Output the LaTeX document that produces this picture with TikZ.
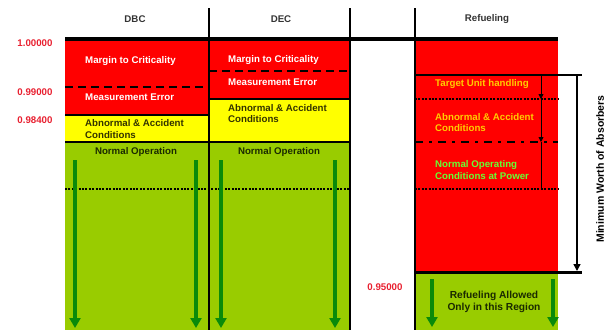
\documentclass[tikz,border=0pt]{standalone}
\usepackage{fontspec}
\setmainfont{Liberation Sans}
\usetikzlibrary{arrows.meta}
\definecolor{bandred}{HTML}{FF0000}
\definecolor{bandyellow}{HTML}{FFFF00}
\definecolor{bandgreen}{HTML}{99CC00}
\definecolor{arrowgreen}{HTML}{0A8A0A}
\definecolor{numred}{HTML}{E82030}
\definecolor{olivetext}{HTML}{333300}
\definecolor{darktext}{HTML}{1A2A00}
\definecolor{orangetext}{HTML}{FFCC00}
\definecolor{limetext}{HTML}{66FF33}
\definecolor{headtext}{HTML}{333333}
\begin{document}
\begin{tikzpicture}[x=1pt,y=-1pt,
  txt/.style={font=\bfseries\fontsize{9.7}{11.5}\selectfont, inner sep=0pt, align=left},
  head/.style={txt, text=headtext},
  num/.style={txt, text=numred},
  sep/.style={line width=2.8pt, black},
  dashsep/.style={line width=2.8pt, black, dash pattern=on 8pt off 5pt},
  dotsep/.style={line width=2.8pt, black, dash pattern=on 2pt off 1.4pt},
  dashdotsep/.style={line width=2.8pt, black, dash pattern=on 8pt off 6pt on 3pt off 6pt},
  garrow/.style={line width=3.2pt, arrowgreen, -{Triangle[width=11pt,length=10pt]}},
  thinarrow/.style={line width=0.8pt, black, -{Triangle[width=5pt,length=5pt]}},
]
\useasboundingbox (0,0) rectangle (606,330);
% fills
\fill[bandred] (65,39) rectangle (209,115);
\fill[bandyellow] (65,115) rectangle (209,142);
\fill[bandgreen] (65,142) rectangle (209,330);
\fill[bandred] (209,39) rectangle (350,99);
\fill[bandyellow] (209,99) rectangle (350,142);
\fill[bandgreen] (209,142) rectangle (350,330);
\fill[bandred] (415,39) rectangle (558,272);
\fill[bandgreen] (415,272) rectangle (558,330);
% column separators
\draw[line width=2.6pt] (209,8) -- (209,330);
\draw[line width=2.2pt] (350,8) -- (350,330);
\draw[line width=2.6pt] (415,8) -- (415,330);
\draw[line width=4pt] (65,39) -- (558,39);
% DBC/DEC band lines
\draw[dashsep] (65,87) -- (209,87);
\draw[dashsep] (209,71) -- (350,71);
\draw[sep] (65,115) -- (209,115);
\draw[sep] (209,99) -- (350,99);
\draw[sep] (65,142) -- (350,142);
\draw[dotsep] (65,189) -- (350,189);
% refueling band lines
\draw[line width=1.6pt] (415,75) -- (582,75);
\draw[dotsep] (415,99) -- (558,99);
\draw[dashdotsep] (415,142) -- (558,142);
\draw[dotsep] (415,189) -- (558,189);
\draw[line width=3pt] (415,272.5) -- (582,272.5);
% coordinates for arrows
\coordinate (wtop) at (577,75);
\coordinate (wbot) at (577,271);
\draw[line width=1.5pt, -{Triangle[width=7pt,length=7pt]}] (wtop) -- (wbot);
\coordinate (t0) at (541,75);
\coordinate (t1) at (541,99);
\coordinate (t2) at (541,142);
\coordinate (t3) at (541,188);
\draw[thinarrow] (t0) -- (t1);
\draw[thinarrow] (t1) -- (t2);
\draw[line width=0.8pt] (t2) -- (t3);
% green arrows
\coordinate (a1s) at (75,160); \coordinate (a1e) at (75,328);
\coordinate (a2s) at (196,160); \coordinate (a2e) at (196,328);
\coordinate (a3s) at (221,160); \coordinate (a3e) at (221,328);
\coordinate (a4s) at (335,160); \coordinate (a4e) at (335,328);
\coordinate (a5s) at (432,279); \coordinate (a5e) at (432,327);
\coordinate (a6s) at (553,279); \coordinate (a6e) at (553,327);
\draw[garrow] (a1s) -- (a1e);
\draw[garrow] (a2s) -- (a2e);
\draw[garrow] (a3s) -- (a3e);
\draw[garrow] (a4s) -- (a4e);
\draw[garrow] (a5s) -- (a5e);
\draw[garrow] (a6s) -- (a6e);
% headers
\node[head] (hdbc) at (135,19) {DBC};
\node[head] (hdec) at (281,19) {DEC};
\node[head] (href) at (487,19) {Refueling};
% numbers
\node[num] (n1) at (35,43) {1.00000};
\node[num] (n2) at (35,92) {0.99000};
\node[num] (n3) at (35,120) {0.98400};
\node[num] (n4) at (385,287) {0.95000};
% DBC texts
\node[txt, text=white, anchor=west] (dbcmargin) at (85,61) {Margin to Criticality};
\node[txt, text=white, anchor=west] (dbcmeas) at (85,97) {Measurement Error};
\node[txt, text=olivetext, anchor=west] (dbcabn) at (85,129) {Abnormal \& Accident\\Conditions};
\node[txt, text=darktext] (dbcnorm) at (136,152) {Normal Operation};
% DEC texts
\node[txt, text=white, anchor=west] (decmargin) at (228,60) {Margin to Criticality};
\node[txt, text=white, anchor=west] (decmeas) at (228,82) {Measurement Error};
\node[txt, text=olivetext, anchor=west] (decabn) at (228,113.5) {Abnormal \& Accident\\Conditions};
\node[txt, text=darktext] (decnorm) at (279,152) {Normal Operation};
% Refueling texts
\node[txt, text=orangetext, anchor=west] (reftarget) at (435,84) {Target Unit handling};
\node[txt, text=orangetext, anchor=west] (refabn) at (435,122.5) {Abnormal \& Accident\\Conditions};
\node[txt, text=limetext, anchor=west] (refnorm) at (435,170) {Normal Operating\\Conditions at Power};
\node[txt, text=darktext, align=center, font=\bfseries\fontsize{10.2}{12}\selectfont] (refallowed) at (494,301.5) {Refueling Allowed\\Only in this Region};
\node[txt, text=black, rotate=90, font=\bfseries\fontsize{10.5}{12}\selectfont] (worth) at (600,169) {Minimum Worth of Absorbers};
\end{tikzpicture}
\end{document}
